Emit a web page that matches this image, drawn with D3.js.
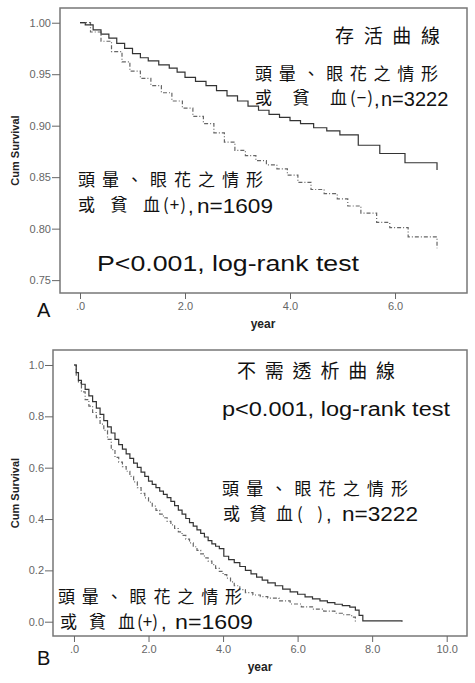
<!DOCTYPE html>
<html><head><meta charset="utf-8">
<script src="https://cdn.jsdelivr.net/npm/d3@7"></script>
<style>html,body{margin:0;padding:0;background:#fff;}svg{display:block;}</style>
</head><body>
<svg id="c" width="475" height="683"></svg>
<script>
// ---------- DATA ----------
// Panel A: overall survival (Kaplan-Meier), [year, cum survival]
const survNeg = [[0,1.000],[0.1,0.998],[0.25,0.993],[0.4,0.989],[0.55,0.985],[0.7,0.980],[0.85,0.975],[1.0,0.970],[1.15,0.966],[1.3,0.963],[1.5,0.959],[1.7,0.956],[1.85,0.952],[2.0,0.947],[2.2,0.943],[2.4,0.939],[2.6,0.934],[2.8,0.929],[3.0,0.924],[3.2,0.919],[3.4,0.915],[3.6,0.911],[3.8,0.908],[4.0,0.905],[4.2,0.902],[4.45,0.898],[4.7,0.895],[4.95,0.891],[5.3,0.881],[5.71,0.873],[6.19,0.864],[6.8,0.857]];
const survPos = [[0,1.000],[0.2,0.991],[0.4,0.982],[0.6,0.972],[0.8,0.962],[0.95,0.953],[1.15,0.946],[1.35,0.939],[1.55,0.932],[1.75,0.924],[1.95,0.917],[2.15,0.909],[2.35,0.902],[2.55,0.893],[2.75,0.884],[2.95,0.876],[3.15,0.871],[3.35,0.866],[3.55,0.862],[3.75,0.858],[3.95,0.852],[4.15,0.845],[4.4,0.838],[4.65,0.834],[4.9,0.829],[5.1,0.822],[5.35,0.815],[5.65,0.806],[5.9,0.801],[6.25,0.792],[6.8,0.781]];
// Panel B: dialysis-free survival, [year, cum survival]
const dialNeg = [[0,1.0],[0.06,0.97],[0.12,0.94],[0.2,0.925],[0.3,0.905],[0.4,0.88],[0.5,0.857],[0.6,0.832],[0.7,0.808],[0.8,0.783],[0.9,0.759],[1.0,0.735],[1.1,0.71],[1.2,0.69],[1.3,0.672],[1.4,0.654],[1.5,0.636],[1.6,0.618],[1.7,0.601],[1.8,0.583],[1.9,0.566],[2.0,0.548],[2.1,0.535],[2.2,0.522],[2.3,0.509],[2.4,0.496],[2.5,0.483],[2.6,0.469],[2.7,0.452],[2.8,0.435],[2.9,0.419],[3.0,0.402],[3.1,0.386],[3.2,0.372],[3.3,0.358],[3.4,0.344],[3.5,0.330],[3.6,0.316],[3.7,0.303],[3.8,0.294],[3.9,0.285],[4.02,0.255],[4.15,0.242],[4.3,0.230],[4.45,0.215],[4.6,0.200],[4.75,0.186],[4.9,0.174],[5.05,0.162],[5.2,0.151],[5.4,0.140],[5.6,0.127],[5.8,0.116],[6.0,0.107],[6.2,0.097],[6.4,0.089],[6.6,0.081],[6.8,0.074],[7.0,0.068],[7.2,0.063],[7.4,0.057],[7.55,0.045],[7.65,0.025],[7.75,0.003],[8.8,0.0]];
const dialPos = [[0,1.0],[0.06,0.96],[0.12,0.93],[0.2,0.895],[0.3,0.865],[0.4,0.84],[0.5,0.815],[0.6,0.795],[0.7,0.77],[0.8,0.745],[0.9,0.71],[1.0,0.67],[1.1,0.64],[1.2,0.622],[1.3,0.604],[1.4,0.586],[1.5,0.566],[1.6,0.545],[1.7,0.522],[1.8,0.5],[1.9,0.482],[2.0,0.466],[2.1,0.45],[2.2,0.434],[2.3,0.419],[2.4,0.405],[2.5,0.391],[2.6,0.377],[2.7,0.363],[2.8,0.35],[2.9,0.336],[3.0,0.322],[3.1,0.307],[3.2,0.292],[3.3,0.278],[3.4,0.264],[3.5,0.249],[3.6,0.236],[3.7,0.222],[3.8,0.208],[3.9,0.196],[4.0,0.183],[4.1,0.17],[4.2,0.155],[4.3,0.14],[4.45,0.125],[4.6,0.113],[4.8,0.104],[5.0,0.098],[5.2,0.092],[5.5,0.081],[5.8,0.069],[6.1,0.058],[6.4,0.049],[6.7,0.041],[7.0,0.033],[7.2,0.027],[7.45,0.018],[7.55,0.0]];
const ticksAx = [0,2,4,6];
const ticksAy = [0.75,0.80,0.85,0.90,0.95,1.00];
const ticksBx = [0,2,4,6,8,10];
const ticksBy = [0,0.2,0.4,0.6,0.8,1.0];

// ---------- DRAW ----------
const svg = d3.select('#c');
const SANS = '"Liberation Sans", Arial, sans-serif';
const CJK = '"Noto Sans CJK TC", "Noto Sans CJK SC", sans-serif';
const xfmt = v => v === 0 ? '.0' : d3.format('.1f')(v);

function panel(o){
  const g = svg.append('g');
  const x = d3.scaleLinear().domain(o.xd).range([o.L, o.R]);
  const y = d3.scaleLinear().domain(o.yd).range([o.B, o.T]);
  g.append('rect').attr('x', o.L).attr('y', o.T).attr('width', o.R-o.L).attr('height', o.B-o.T)
    .attr('fill','none').attr('stroke','#777').attr('stroke-width',1.5);
  const ya = g.append('g').attr('transform',`translate(${o.L},0)`)
    .call(d3.axisLeft(y).tickValues(o.yt).tickFormat(d3.format(o.yf)).tickSize(8).tickPadding(1));
  ya.select('.domain').remove();
  ya.selectAll('line').attr('stroke','#666');
  ya.selectAll('text').attr('fill','#666').style('font-family',SANS).style('font-size','11px');
  const xa = g.append('g').attr('transform',`translate(0,${o.B})`)
    .call(d3.axisBottom(x).tickValues(o.xt).tickFormat(xfmt).tickSize(6).tickPadding(3));
  xa.select('.domain').remove();
  xa.selectAll('line').attr('stroke','#666');
  xa.selectAll('text').attr('fill','#666').style('font-family',SANS).style('font-size','11px');
  g.append('text').attr('x', o.yearX).attr('y', o.yearY).attr('text-anchor','middle')
    .style('font-family',SANS).style('font-size','12px').style('font-weight','bold').attr('fill','#222').text('year');
  g.append('text').attr('transform',`translate(19,${(o.T+o.B)/2}) rotate(-90)`).attr('text-anchor','middle')
    .style('font-family',SANS).style('font-size','11px').style('font-weight','bold').attr('fill','#222').text('Cum Survival');
  g.append('text').attr('x', 37).attr('y', o.letterY)
    .style('font-family',SANS).style('font-size','20px').attr('fill','#111').text(o.letter);
  const line = d3.line().x(d=>x(d[0])).y(d=>y(d[1])).curve(d3.curveStepAfter);
  g.append('path').datum(o.pos).attr('d',line).attr('fill','none')
    .attr('stroke','#666').attr('stroke-width',1.2).attr('stroke-dasharray','4,2,1,2');
  g.append('path').datum(o.neg).attr('d',line).attr('fill','none')
    .attr('stroke','#333').attr('stroke-width',1.2);
  return g;
}

panel({L:60,R:467,T:8,B:293,xd:[-0.381,7.371],yd:[0.7375,1.0143],xt:ticksAx,yt:ticksAy,yf:'.2f',
  neg:survNeg,pos:survPos,yearX:263,yearY:328,letter:'A',letterY:317});
panel({L:53,R:467,T:350,B:636,xd:[-0.563,10.545],yd:[-0.0557,1.0584],xt:ticksBx,yt:ticksBy,yf:'.1f',
  neg:dialNeg,pos:dialPos,yearX:260,yearY:671,letter:'B',letterY:665});

function txt(x, y, s, size, fam, len, adj){
  const t = svg.append('text').attr('x',x).attr('y',y).attr('fill','#111')
    .style('font-family',fam).style('font-size',size+'px').text(s);
  if (len) t.attr('textLength',len).attr('lengthAdjust',adj||'spacing');
  return t;
}
// Panel A annotations
txt(335, 43, '存活曲線', 19, CJK, 105);
txt(255, 80, '頭暈、眼花之情形', 17, CJK, 183);
txt(255, 104, '或貧血', 17, CJK, 92);
txt(350, 104, '(−)', 17, CJK, 23);
txt(374, 106, ',', 20, SANS);
txt(381, 106, 'n=3222', 20, SANS);
txt(78, 186, '頭暈、眼花之情形', 17, CJK, 185);
txt(78, 211, '或貧血', 17, CJK, 82);
txt(163, 211, '(+)', 17, CJK, 23);
txt(188, 213, ',', 20, SANS);
txt(197, 213, 'n=1609', 20, SANS, 76, 'spacingAndGlyphs');
txt(97, 271, 'P<0.001, log-rank test', 22, SANS, 262, 'spacingAndGlyphs');
// Panel B annotations
txt(237, 378, '不需透析曲線', 19, CJK, 158);
txt(222, 416, 'p<0.001, log-rank test', 20, SANS, 228, 'spacingAndGlyphs');
txt(222, 495, '頭暈、眼花之情形', 17, CJK, 186);
txt(223, 520, '或貧血', 17, CJK, 70);
txt(297, 520, '(  )', 17, CJK, 26);
txt(326, 521, ',', 20, SANS);
txt(342, 521, 'n=3222', 21, SANS, 76, 'spacingAndGlyphs');
txt(58, 603, '頭暈、眼花之情形', 17, CJK, 184);
txt(60, 628, '或貧血', 17, CJK, 75);
txt(137, 628, '(+)', 17, CJK, 21);
txt(161, 629, ',', 20, SANS);
txt(175, 629, 'n=1609', 21, SANS, 78, 'spacingAndGlyphs');
</script>
</body></html>
